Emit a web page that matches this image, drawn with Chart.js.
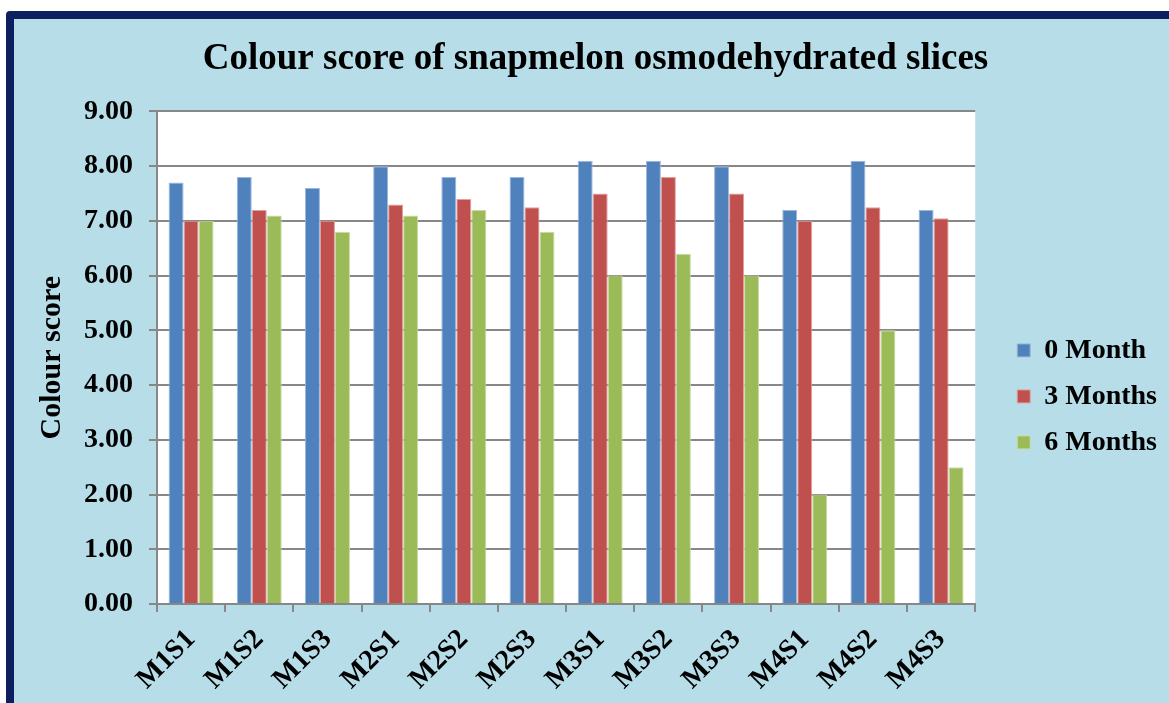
<!DOCTYPE html>
<html>
<head>
<meta charset="utf-8">
<script src="https://cdn.jsdelivr.net/npm/chart.js@4"></script>
<style>
  html, body { margin: 0; padding: 0; background: #ffffff; }
  #frame {
    position: absolute; left: 6px; top: 11px; width: 1180px; height: 720px;
    background: #b7dde8; border: 8px solid #0c1f5e; border-radius: 4px;
  }
  #wrap { position: absolute; left: 0; top: 0; width: 1169px; height: 703px; }
</style>
</head>
<body>
<div id="frame"></div>
<div id="wrap"><canvas id="chart" width="1169" height="703"></canvas></div>
<script>
const categories = ['M1S1', 'M1S2', 'M1S3', 'M2S1', 'M2S2', 'M2S3', 'M3S1', 'M3S2', 'M3S3', 'M4S1', 'M4S2', 'M4S3'];
const month0 = [7.7, 7.8, 7.6, 8.0, 7.8, 7.8, 8.1, 8.1, 8.0, 7.2, 8.1, 7.2];
const month3 = [7.0, 7.2, 7.0, 7.3, 7.4, 7.25, 7.5, 7.8, 7.5, 7.0, 7.25, 7.05];
const month6 = [7.0, 7.1, 6.8, 7.1, 7.2, 6.8, 6.0, 6.4, 6.0, 2.0, 5.0, 2.5];
const seriesNames = ['0 Month', '3 Months', '6 Months'];
const colors = ['#4f81bd', '#c0504d', '#9bbb59'];
const edges = ['#9db7dc', '#e2a09e', '#c8dca4'];

const serif = '"Liberation Serif", "Times New Roman", serif';
const gridGray = '#878787';

// white plot area behind the bars
const plotBg = {
  id: 'plotBg',
  beforeDraw(chart) {
    const { ctx, chartArea: a } = chart;
    ctx.save();
    ctx.fillStyle = '#ffffff';
    ctx.fillRect(a.left, a.top, a.right - a.left, a.bottom - a.top);
    ctx.restore();
  }
};

const ctx = document.getElementById('chart').getContext('2d');
new Chart(ctx, {
  type: 'bar',
  data: {
    labels: categories,
    datasets: [month0, month3, month6].map((d, i) => ({
      label: seriesNames[i],
      data: d,
      backgroundColor: colors[i],
      borderColor: edges[i],
      borderWidth: 1,
      barPercentage: 1,
      categoryPercentage: 0.66,
    }))
  },
  options: {
    responsive: false,
    animation: false,
    layout: { padding: { left: 24, right: 2, top: 0, bottom: 0 } },
    plugins: {
      title: {
        display: true,
        text: 'Colour score of snapmelon osmodehydrated slices',
        color: '#000',
        font: { family: serif, size: 37, weight: 'bold' },
        padding: { top: 37, bottom: 30 },
      },
      legend: {
        position: 'right',
        title: { display: true, text: '', font: { family: serif, size: 24 }, padding: { top: 61, bottom: 0 } },
        labels: {
          color: '#000',
          font: { family: serif, size: 28, weight: 'bold' },
          boxWidth: 13,
          boxHeight: 13,
          padding: 18,
        }
      },
      tooltip: { enabled: false },
    },
    scales: {
      x: {
        grid: { drawOnChartArea: false, drawTicks: true, tickLength: 8, color: gridGray, lineWidth: 2 },
        border: { color: gridGray, width: 2 },
        ticks: {
          color: '#000',
          font: { family: serif, size: 28, weight: 'bold' },
          maxRotation: 45, minRotation: 45, padding: 11,
        },
        afterFit(scale) { scale.height = 99; },
      },
      y: {
        min: 0, max: 9,
        ticks: {
          stepSize: 1,
          color: '#000',
          font: { family: serif, size: 28, weight: 'bold' },
          padding: 16,
          callback: v => Number(v).toFixed(2),
        },
        grid: { color: gridGray, lineWidth: 2, tickLength: 8 },
        border: { color: gridGray, width: 2 },
        title: {
          display: true,
          text: 'Colour score',
          color: '#000',
          font: { family: serif, size: 30, weight: 'bold' },
          padding: { top: 10, bottom: 0 },
        },
        afterFit(scale) { scale.width = 133; },
      },
      // empty spacer between the plot and the legend
      gap: {
        position: 'right',
        grid: { display: false },
        border: { display: false },
        ticks: { display: false },
        afterFit(scale) { scale.width = 24; },
      }
    }
  },
  plugins: [plotBg]
});
</script>
</body>
</html>
